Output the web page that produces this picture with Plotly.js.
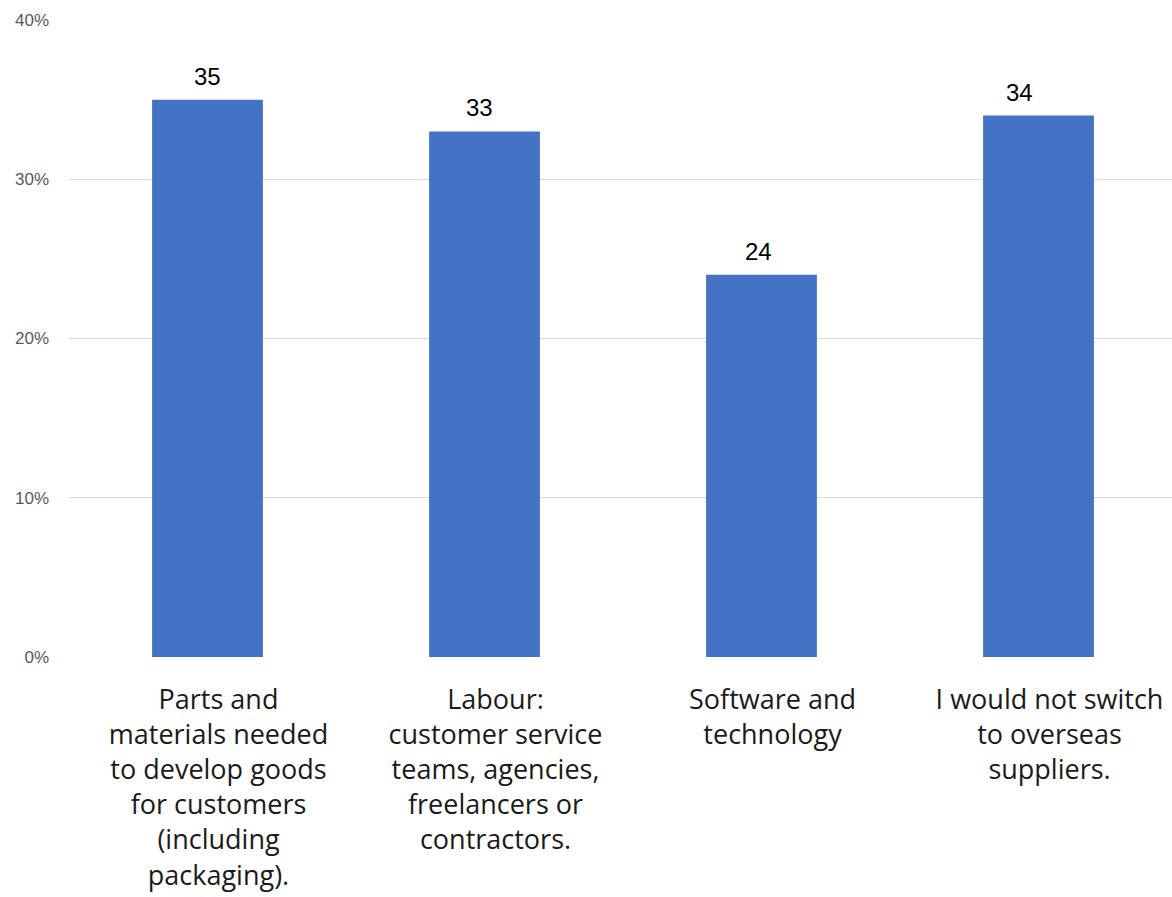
<!DOCTYPE html>
<html>
<head>
<meta charset="utf-8">
<script src="https://cdn.plot.ly/plotly-3.0.1.min.js"></script>
<style>html,body{margin:0;padding:0;background:#fff;overflow:hidden;}#chart{width:1177px;height:897px;}</style>
</head>
<body>
<div id="chart"></div>
<script>
const categories = [
  "Parts and<br>materials needed<br>to develop goods<br>for customers<br>(including<br>packaging).",
  "Labour:<br>customer service<br>teams, agencies,<br>freelancers or<br>contractors.",
  "Software and<br>technology",
  "I would not switch<br>to overseas<br>suppliers."
];
const values = [35, 33, 24, 34];
const yTicks = [0, 10, 20, 30, 40];

// style: small horizontal nudges of the value labels, as seen in the reference
const labelNudge = [0, -5, -3, -19];

const trace = {
  type: 'bar',
  x: categories,
  y: values,
  marker: {color: '#4472C4'},
  hoverinfo: 'skip'
};

const annotations = categories.map((c, i) => ({
  x: c, y: values[i], xref: 'x', yref: 'y',
  text: String(values[i]), showarrow: false,
  yanchor: 'bottom', yshift: 8, xshift: labelNudge[i],
  font: {family: 'Liberation Sans, Arial, sans-serif', size: 24, color: '#000'}
}));

const layout = {
  width: 1177, height: 897,
  margin: {l: 69, r: 0, t: 20, b: 240},
  paper_bgcolor: '#fff', plot_bgcolor: '#fff',
  bargap: 0.6,
  showlegend: false,
  xaxis: {
    type: 'category',
    showgrid: false, zeroline: false, showline: false,
    ticks: '',
    ticklabelstandoff: 24,
    ticklabelshift: 11,
    tickfont: {family: 'Open Sans, sans-serif', size: 27, color: '#1a1a1a'}
  },
  yaxis: {
    range: [0, 40],
    tickvals: yTicks,
    ticktext: yTicks.map(v => v + '%'),
    showgrid: true, gridcolor: '#d9d9d9', gridwidth: 1.3,
    zeroline: false, showline: false,
    ticks: '',
    ticklabelstandoff: 19,
    tickfont: {family: 'Liberation Sans, Arial, sans-serif', size: 17, color: '#595959'}
  },
  annotations: annotations
};

Plotly.newPlot('chart', [trace], layout, {displayModeBar: false, staticPlot: true});
</script>
</body>
</html>
